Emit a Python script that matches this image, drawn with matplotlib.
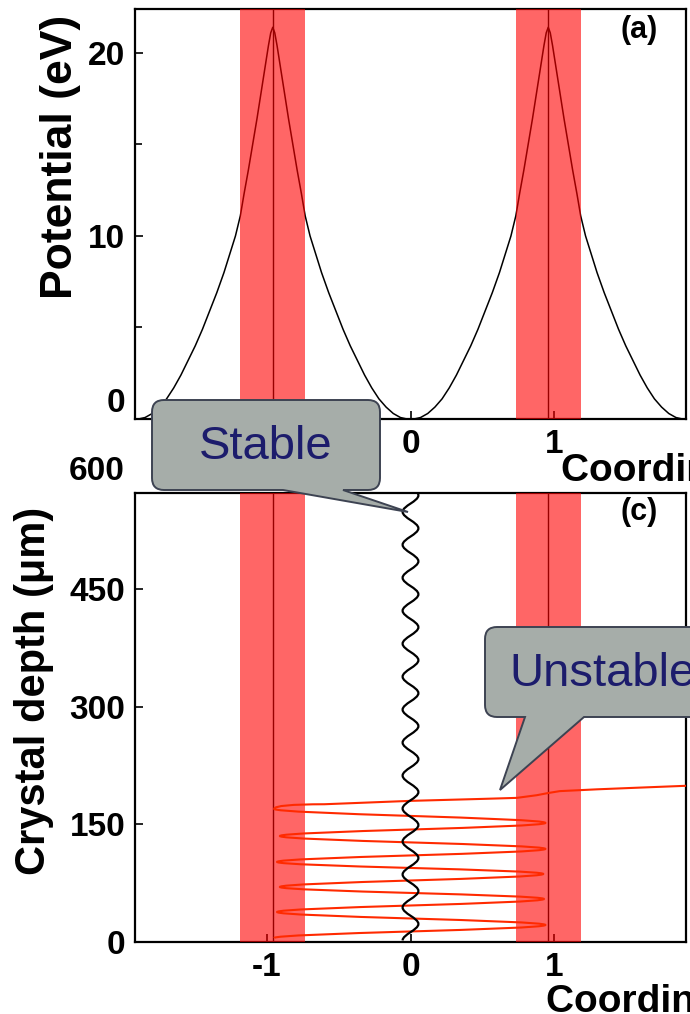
import numpy as np
import matplotlib
matplotlib.use("Agg")
import matplotlib.pyplot as plt
from matplotlib.path import Path
from matplotlib.patches import PathPatch
from matplotlib.transforms import Affine2D

plt.rcParams["font.family"] = ["Liberation Sans", "DejaVu Sans"]
plt.rcParams["font.weight"] = "bold"
plt.rcParams["axes.labelweight"] = "bold"

# ---------------- data ----------------
plane_pos = [-0.96, 0.96]          # atomic planes (Å)
plane_halfwidth = 0.226            # half-width of the nuclear corridor (Å)
coord_lim = (-1.92, 1.92)
coord_ticks = [-1, 0, 1]

# planar potential of Si(110): value vs distance from an atomic plane
flank_dist = [0.0, 0.014, 0.03, 0.05, 0.08, 0.11, 0.14, 0.17, 0.2, 0.226,
              0.26, 0.3, 0.34, 0.39, 0.44, 0.49, 0.54, 0.59, 0.64, 0.69,
              0.74, 0.79, 0.84, 0.89, 0.93, 0.96]
flank_pot = [21.4, 21.1, 20.4, 19.4, 17.9, 16.4, 15.0, 13.6, 12.3, 11.1,
             10.0, 9.0, 8.0, 6.9, 5.9, 4.9, 4.0, 3.2, 2.4, 1.7,
             1.1, 0.65, 0.3, 0.08, 0.01, 0.0]
pot_lim = (0, 22.4)
pot_ticks = [0, 10, 20]

# turning points of the channeled (stable) trajectory
stable_depth = [2, 23, 44, 65, 86, 107, 128, 149, 170, 191, 212, 233, 254,
                275, 296, 317, 338, 359, 380, 401, 422, 443, 464, 485, 506,
                527, 548, 569, 590]
stable_x = [-0.055, 0.055, -0.055, 0.055, -0.055, 0.055, -0.055, 0.055,
            -0.055, 0.055, -0.055, 0.055, -0.055, 0.055, -0.055, 0.055,
            -0.055, 0.055, -0.055, 0.055, -0.055, 0.055, -0.055, 0.055,
            -0.055, 0.055, -0.055, 0.055, -0.055]

# turning points of the over-barrier (unstable) trajectory
unstable_depth = [5.1, 21.7, 38.2, 54.8, 70.1, 86.7, 102.0, 118.6, 135.0,
                  151.7, 169.6]
unstable_x = [-0.95, 0.94, -0.93, 0.93, -0.91, 0.925, -0.93, 0.94, -0.91,
              0.94, -0.95]
# path after dechanneling
escape_x = [-0.6, 0.0, 0.5, 0.74, 0.88, 0.96, 1.04, 1.3, 1.6, 1.92]
escape_depth = [175.5, 179.8, 182.3, 183.6, 187.0, 189.8, 192.2, 194.5,
                196.7, 199.0]

depth_lim = (0, 572)
depth_ticks = [0, 150, 300, 450]
depth_top_label = 600

TICK_FS = 24
XLABEL_FS = 28

# ---------------- figure ----------------
W, H = 690, 1014
fig = plt.figure(figsize=(W / 100, H / 100), dpi=100)


def px_axes(left, top, right, bottom):
    return fig.add_axes([left / W, 1 - bottom / H, (right - left) / W,
                         (bottom - top) / H])


ax1 = px_axes(135, 9, 686, 419)
ax2 = px_axes(135, 493, 686, 942)

for ax in (ax1, ax2):
    for s in ax.spines.values():
        s.set_linewidth(1.6)
    ax.tick_params(axis="both", which="major", direction="in", length=6,
                   width=1.2, labelsize=TICK_FS, pad=7)
    ax.tick_params(axis="both", which="minor", direction="in", length=5,
                   width=1.2)
    ax.set_xlim(coord_lim)
    ax.set_xticks(coord_ticks)
    ax.set_xticklabels([f"{t:d}" for t in coord_ticks])
    for p in plane_pos:
        ax.axvline(p, color="black", lw=1.0, zorder=2)
        ax.axvspan(p - plane_halfwidth, p + plane_halfwidth, color="red",
                   alpha=0.6, lw=0, zorder=3)

# ---- panel (a): potential, both flanks of each plane ----
d = np.array(flank_dist)
v = np.array(flank_pot)
pot_x, pot_v = [], []
for p in plane_pos:
    pot_x += list(p - d[::-1]) + list(p + d[1:])
    pot_v += list(v[::-1]) + list(v[1:])
ax1.plot(pot_x, pot_v, color="black", lw=1.1, zorder=2)
ax1.set_ylim(pot_lim)
ax1.set_yticks(pot_ticks)
ax1.set_yticklabels([""] + [str(t) for t in pot_ticks[1:]])
ax1.set_yticks([5, 15], minor=True)
ax1.text(-0.0185, pot_ticks[0] + 0.87, str(pot_ticks[0]), fontsize=TICK_FS,
         transform=ax1.get_yaxis_transform(), ha="right", va="center")
ax1.set_ylabel("Potential (eV)", fontsize=32, va="center")
ax1.yaxis.set_label_coords(-0.135, 0.64)
ax1.set_xlabel("Coordinate (Å)", fontsize=XLABEL_FS, ha="left", va="center")
ax1.xaxis.set_label_coords(0.774, -0.1195)
ax1.text(0.915, 0.948, "(a)", transform=ax1.transAxes, fontsize=22,
         ha="center", va="center")


# ---- panel (c): trajectories ----
def turning_path(xs, zs):
    k = 1 - 2 / np.pi
    verts = [(xs[0], zs[0])]
    codes = [Path.MOVETO]
    for x0, z0, x1, z1 in zip(xs[:-1], zs[:-1], xs[1:], zs[1:]):
        dz = z1 - z0
        verts += [(x0, z0 + k * dz), (x1, z1 - k * dz), (x1, z1)]
        codes += [Path.CURVE4] * 3
    return verts, codes


v_red, c_red = turning_path(unstable_x, unstable_depth)
v_red += [(unstable_x[-1], escape_depth[0]), (escape_x[0], escape_depth[0])]
c_red += [Path.CURVE3, Path.CURVE3]
for x, z in zip(escape_x[1:], escape_depth[1:]):
    v_red.append((x, z))
    c_red.append(Path.LINETO)
ax2.add_patch(PathPatch(Path(v_red, c_red), fill=False, edgecolor="#ff2a00",
                        lw=1.5, zorder=4))

v_blk, c_blk = turning_path(stable_x, stable_depth)
ax2.add_patch(PathPatch(Path(v_blk, c_blk), fill=False, edgecolor="black",
                        lw=1.6, zorder=5))

ax2.set_ylim(depth_lim)
ax2.set_yticks(depth_ticks)
ax2.text(-0.0185, depth_top_label, str(depth_top_label), fontsize=TICK_FS,
         transform=ax2.get_yaxis_transform(), ha="right", va="center",
         clip_on=False)
ax2.set_ylabel("Crystal depth (μm)", fontsize=30, va="center")
ax2.yaxis.set_label_coords(-0.183, 0.56)
ax2.set_xlabel("Coordinate (Å)", fontsize=XLABEL_FS, ha="left", va="center")
ax2.xaxis.set_label_coords(0.746, -0.126)
ax2.text(0.915, 0.958, "(c)", transform=ax2.transAxes, fontsize=22,
         ha="center", va="center")

# ---- speech-bubble callouts (pixel layout, y downwards) ----
pix = Affine2D().scale(1 / W, -1 / H).translate(0, 1) + fig.transFigure


def callout(x0, y0, x1, y1, r, bx0, bx1, tip, text):
    tx, ty = tip
    verts = [(x0 + r, y0), (x1 - r, y0), (x1, y0), (x1, y0 + r),
             (x1, y1 - r), (x1, y1), (x1 - r, y1), (bx1, y1), (tx, ty),
             (bx0, y1), (x0 + r, y1), (x0, y1), (x0, y1 - r), (x0, y0 + r),
             (x0, y0), (x0 + r, y0), (x0 + r, y0)]
    codes = [Path.MOVETO, Path.LINETO, Path.CURVE3, Path.CURVE3,
             Path.LINETO, Path.CURVE3, Path.CURVE3, Path.LINETO, Path.LINETO,
             Path.LINETO, Path.LINETO, Path.CURVE3, Path.CURVE3, Path.LINETO,
             Path.CURVE3, Path.CURVE3, Path.CLOSEPOLY]
    fig.add_artist(PathPatch(Path(verts, codes), transform=pix,
                             facecolor="#a6ada9", edgecolor="#3d4352",
                             lw=1.4, zorder=10))
    fig.text(((x0 + x1) / 2) / W, 1 - ((y0 + y1) / 2 + 2) / H, text,
             fontsize=34, fontweight="normal", color="#1c1c6c",
             ha="center", va="center", zorder=11)


callout(152, 400, 380, 490, 12, 283, 343, (408, 512), "Stable")
callout(485, 627, 720, 717, 12, 525, 584, (500, 790), "Unstable")

fig.savefig("out.png", dpi=100)
